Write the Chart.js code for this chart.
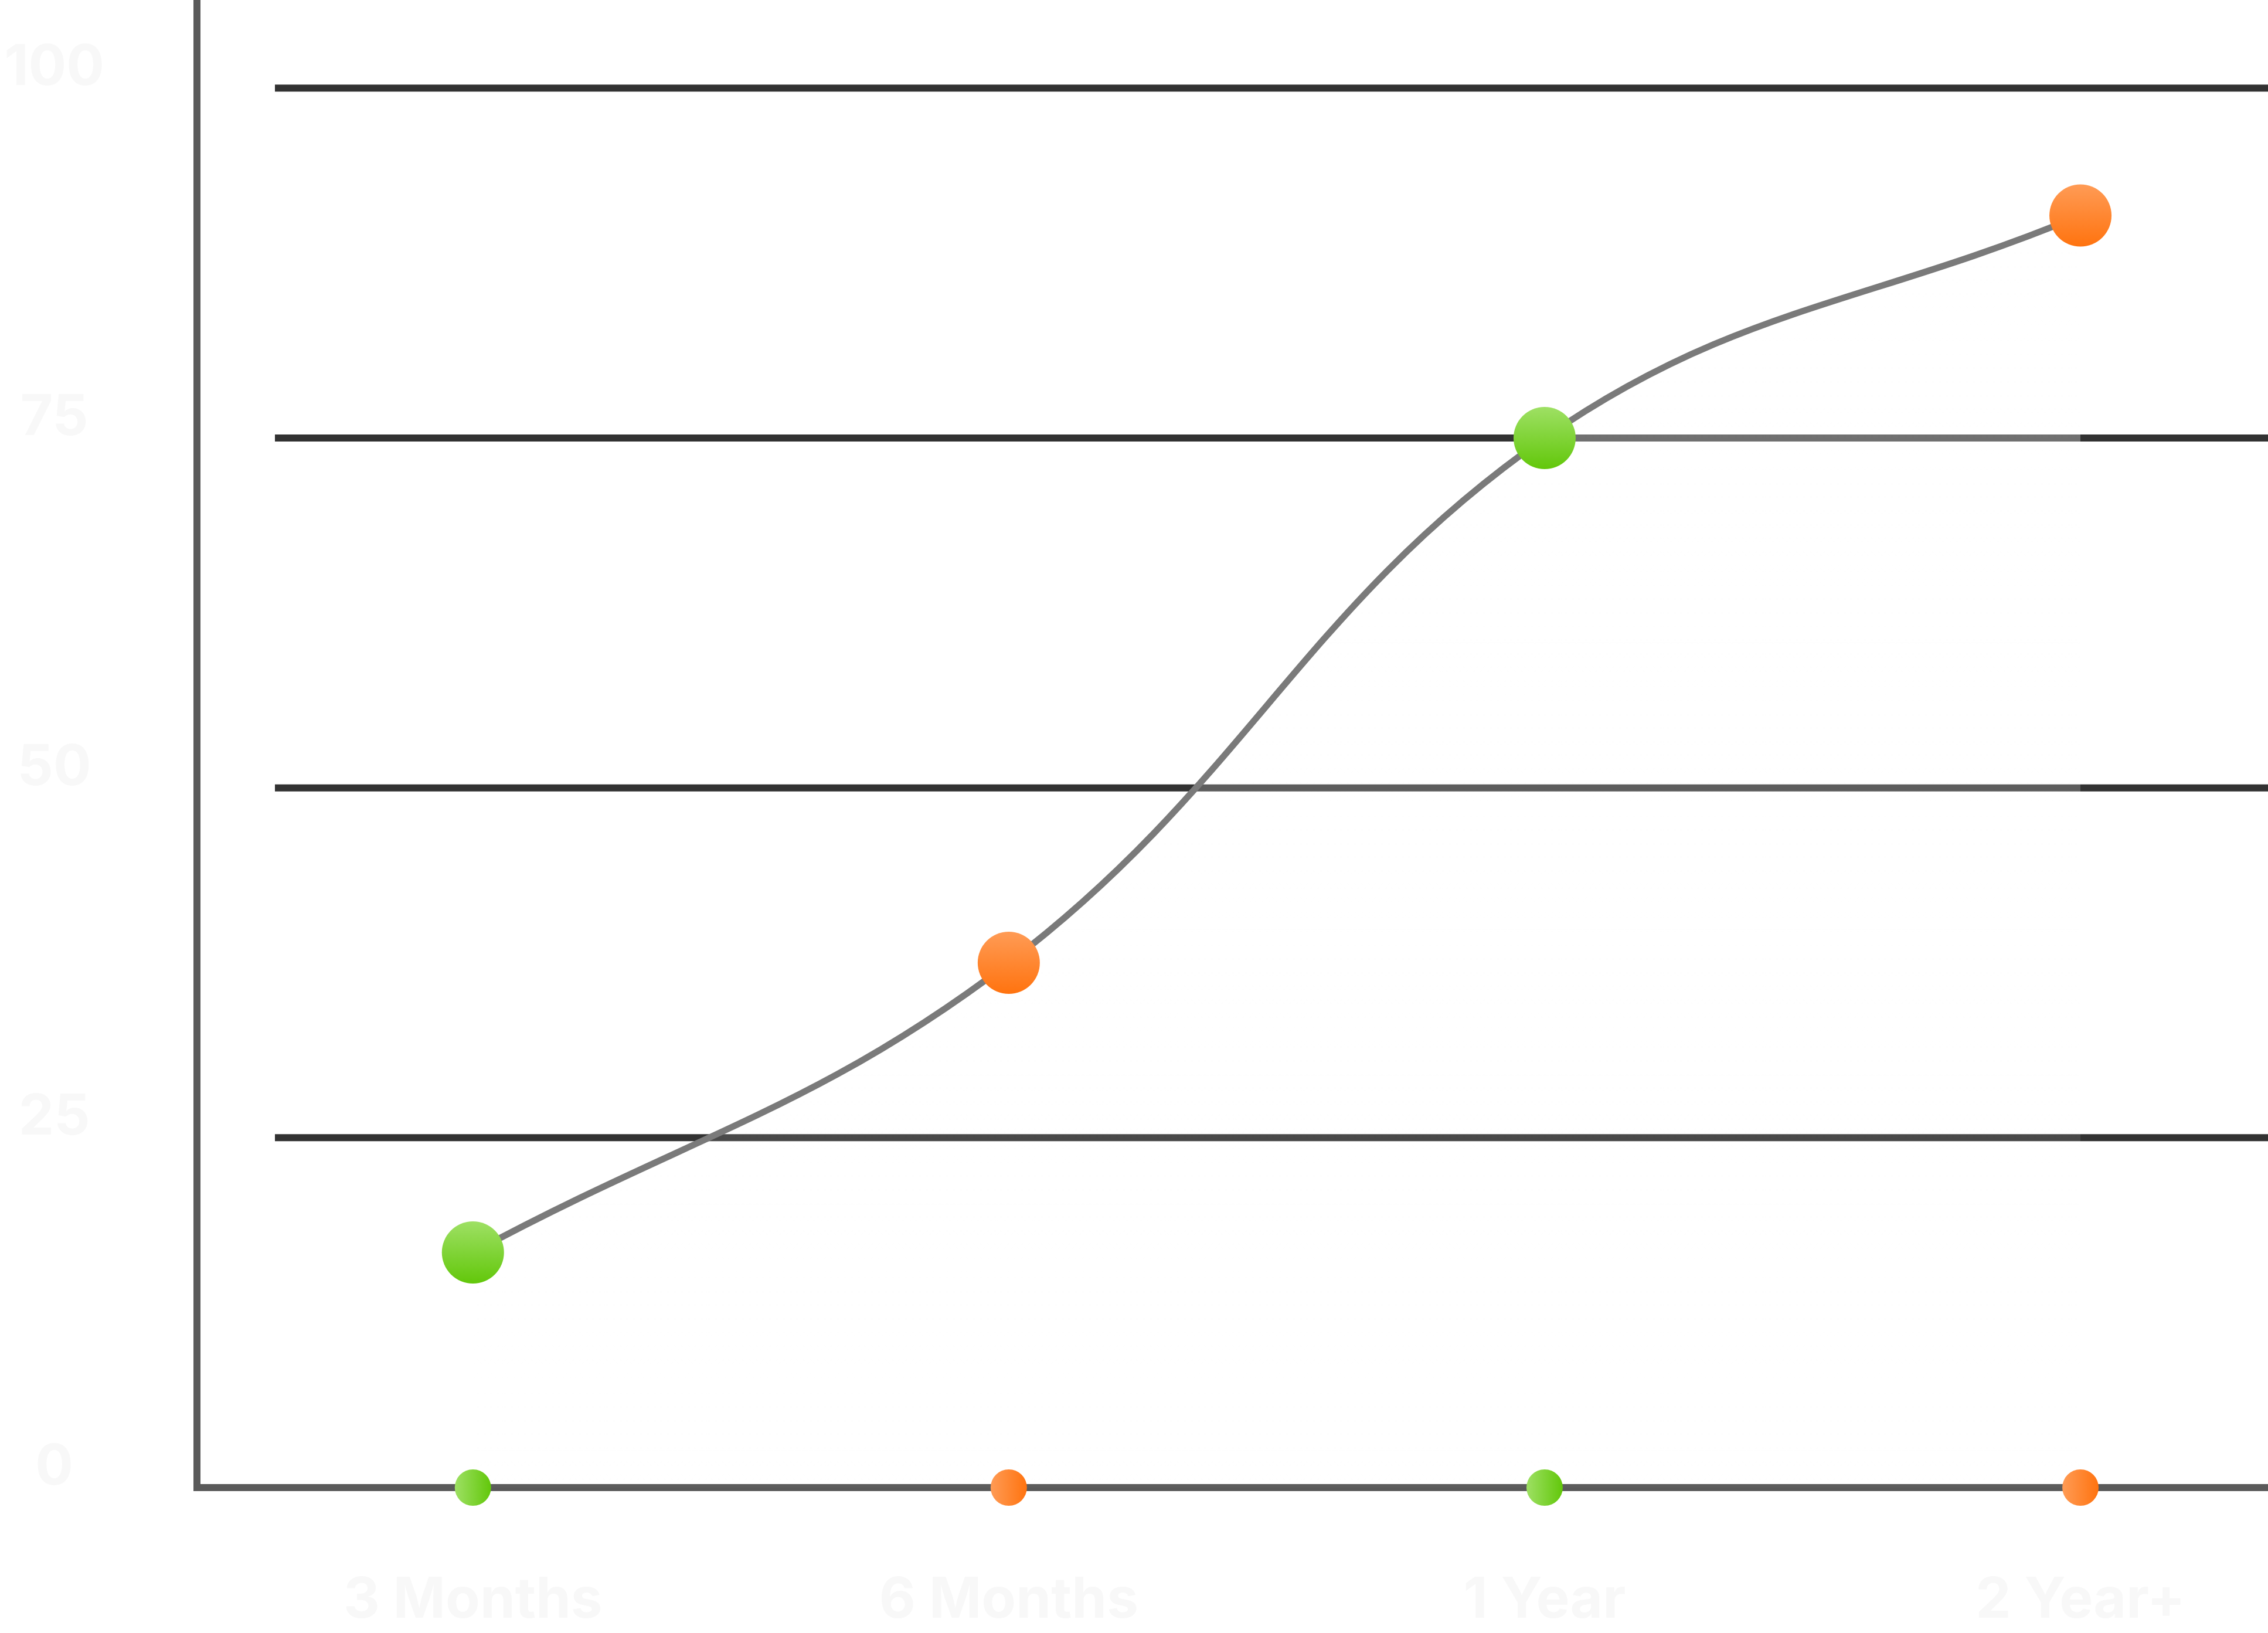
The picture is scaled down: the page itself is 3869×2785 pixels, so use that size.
<!DOCTYPE html>
<html>
<head>
<meta charset="utf-8">
<script src="https://cdn.jsdelivr.net/npm/chart.js"></script>
<style>
  html, body { margin: 0; padding: 0; background: #fff; overflow: hidden; }
</style>
</head>
<body>
<canvas id="myChart" width="3869" height="2785"></canvas>
<script>
// chart data
const categories = ['3 Months', '6 Months', '1 Year', '2 Year+'];
const growthValues = [16.8, 37.5, 75, 90.9];
const baselineValues = [0, 0, 0, 0];
const yTickValues = [0, 25, 50, 75, 100];

// styles
const GREEN = ['#9ee064', '#62c70a'];
const ORANGE = ['#ff9b55', '#ff730f'];
const labelFont = { family: 'Inter', weight: 'bold', size: 96 };

// gradient fill for a point, built from the scales' pixel positions
function pointGradient(c, radius, vertical) {
    const pal = c.dataIndex % 2 === 0 ? GREEN : ORANGE;
    const chart = c.chart;
    if (c.type !== 'data' || !chart.chartArea) return pal[1];
    const px = chart.scales.x.getPixelForValue(c.parsed.x);
    const py = chart.scales.y.getPixelForValue(c.parsed.y);
    const g = vertical
        ? chart.ctx.createLinearGradient(px, py - radius, px, py + radius)
        : chart.ctx.createLinearGradient(px - radius, py, px + radius, py);
    g.addColorStop(0, pal[0]);
    g.addColorStop(1, pal[1]);
    return g;
}

// faint white wash under the curve, fading towards the x axis
function areaGradient(c) {
    const chart = c.chart;
    if (!chart.chartArea) return 'rgba(255,255,255,0.2)';
    const y = chart.scales.y;
    const g = chart.ctx.createLinearGradient(0, y.getPixelForValue(100), 0, y.getPixelForValue(0));
    g.addColorStop(0, 'rgba(255,255,255,0.4)');
    g.addColorStop(1, 'rgba(255,255,255,0.02)');
    return g;
}

// horizontal grid rows that start a bit right of the y axis
const gridRows = {
    id: 'gridRows',
    beforeDatasetsDraw(chart) {
        const { ctx, chartArea, scales: { y } } = chart;
        ctx.save();
        ctx.strokeStyle = '#323232';
        ctx.lineWidth = 12;
        yTickValues.forEach(v => {
            if (v === 0) return;
            const py = y.getPixelForValue(v);
            ctx.beginPath();
            ctx.moveTo(chartArea.left + 133, py);
            ctx.lineTo(chart.width, py);
            ctx.stroke();
        });
        ctx.restore();
    }
};

const ctx = document.getElementById('myChart').getContext('2d');
const myChart = new Chart(ctx, {
    type: 'line',
    data: {
        datasets: [{
            // small markers sitting on the x axis (drawn on top)
            label: 'Base',
            data: baselineValues.map((v, i) => ({ x: i, y: v })),
            showLine: false,
            fill: false,
            pointRadius: 31,
            pointHoverRadius: 31,
            pointBorderWidth: 0,
            pointBackgroundColor: c => pointGradient(c, 31, false),
            clip: false
        }, {
            label: 'Growth',
            data: growthValues.map((v, i) => ({ x: i, y: v })),
            borderColor: '#7a7a7a',
            borderWidth: 11,
            tension: 0.4,
            fill: 'origin',
            backgroundColor: areaGradient,
            pointRadius: 53,
            pointHoverRadius: 53,
            pointBorderWidth: 0,
            pointBackgroundColor: c => pointGradient(c, 53, true),
            clip: false
        }]
    },
    options: {
        responsive: false,
        animation: false,
        events: [],
        layout: { padding: 0, autoPadding: false },
        plugins: {
            legend: { display: false },
            tooltip: { enabled: false }
        },
        scales: {
            x: {
                type: 'linear',
                min: -0.515,
                max: 3.35,
                afterBuildTicks: s => { s.ticks = categories.map((c, i) => ({ value: i })); },
                afterFit: s => {
                    s.height = 248;
                    s.paddingLeft = 0; s.paddingRight = 0;
                    s.paddingTop = 0; s.paddingBottom = 0;
                },
                ticks: {
                    callback: v => categories[v],
                    padding: 136,
                    font: labelFont,
                    color: '#f8f8f8',
                    autoSkip: false,
                    maxRotation: 0
                },
                grid: { color: 'rgba(0,0,0,0)', drawTicks: false },
                border: { color: '#5a5a5a', width: 12 }
            },
            y: {
                min: 0,
                max: 106.3,
                afterBuildTicks: s => { s.ticks = yTickValues.map(v => ({ value: v })); },
                afterFit: s => {
                    s.width = 336;
                    s.paddingLeft = 0; s.paddingRight = 0;
                    s.paddingTop = 0; s.paddingBottom = 0;
                },
                ticks: {
                    padding: 158,
                    crossAlign: 'center',
                    labelOffset: -34,
                    font: labelFont,
                    color: '#f8f8f8'
                },
                grid: { color: 'rgba(0,0,0,0)', drawTicks: false },
                border: { color: '#5a5a5a', width: 12 }
            }
        }
    },
    plugins: [gridRows]
});
</script>
</body>
</html>
